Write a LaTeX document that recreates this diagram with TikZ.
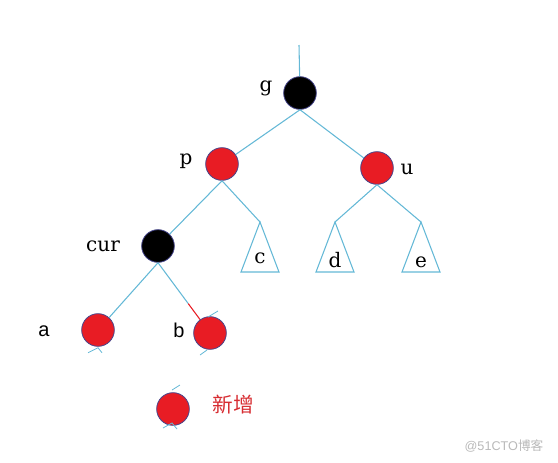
\documentclass[tikz,border=0pt]{standalone}
\usepackage{fontspec}
\setmainfont{DejaVu Serif}
\newfontfamily\sansf{Liberation Sans}
\newfontfamily\cjk{Noto Sans CJK SC}
\definecolor{edgeblue}{RGB}{100,184,214}
\definecolor{nodered}{RGB}{232,28,36}
\definecolor{rimblue}{RGB}{70,70,140}
\definecolor{labred}{RGB}{215,45,50}
\definecolor{wmgrey}{RGB}{185,185,185}
\tikzset{
  edge/.style={draw=edgeblue, line width=0.8pt},
  rbnode/.style={circle, draw=rimblue, line width=0.6pt, minimum size=24.5pt, inner sep=0pt},
  rednode/.style={rbnode, fill=nodered},
  blacknode/.style={rbnode, fill=black},
  lab/.style={font=\fontsize{15}{17}\selectfont, anchor=base, inner sep=0pt},
  slab/.style={font=\sansf\fontsize{15}{17}\selectfont, anchor=base, inner sep=0pt},
}
\begin{document}
\begin{tikzpicture}[x=0.75pt, y=-0.75pt]
\useasboundingbox (0,0) rectangle (558,462);
% nodes
\node[blacknode] (g) at (300,93) {};
\node[rednode] (p) at (222,164) {};
\node[rednode] (u) at (377,168) {};
\node[blacknode] (cur) at (158,246) {};
\node[rednode] (a) at (98,330) {};
\node[rednode] (b) at (210,333) {};
\node[rednode] (n) at (173,409) {};
% triangles
\coordinate (ct) at (260,222);
\coordinate (dt) at (335,222);
\coordinate (et) at (421,222);
\draw[edge] (ct) -- ++(-19,50) -- ++(38,0) -- cycle;
\draw[edge] (dt) -- ++(-19,50) -- ++(38,0) -- cycle;
\draw[edge] (et) -- ++(-19,50) -- ++(38,0) -- cycle;
% top line
\coordinate (top) at (299,45);
\draw[edge] (top) -- (g);
% edges
\draw[edge] (g.south) -- (p);
\draw[edge] (g.south) -- (u);
\draw[edge] (p.south) -- (cur);
\draw[edge] (p.south) -- (ct);
\draw[edge] (u.south) -- (dt);
\draw[edge] (u.south) -- (et);
\draw[edge] (cur.south) -- (a);
\path (cur.south) -- (b) coordinate[pos=0.72] (bm);
\draw[edge] (cur.south) -- (bm);
\draw[draw=nodered, line width=0.8pt] (bm) -- (b);
% small nil strokes
\draw[edge, line width=0.6pt] ([shift={(-10,6)}]a.south) -- ([shift={(0,1)}]a.south) -- ([shift={(4,6)}]a.south);
\draw[edge, line width=0.6pt] ([shift={(-10,22)}]b.center) -- ([shift={(-3,17)}]b.center);
\draw[edge, line width=0.6pt] ([shift={(-2,-16)}]b.center) -- ([shift={(8,-22)}]b.center);
\draw[edge, line width=0.6pt] ([shift={(-10,19)}]n.center) -- ([shift={(-1,14)}]n.center) -- ([shift={(4,20)}]n.center);
\draw[edge, line width=0.6pt] ([shift={(-1,-19)}]n.center) -- ([shift={(7,-24)}]n.center);
% labels
\node[lab] (lg) at (266,91) {g};
\node[lab] (lp) at (186,164) {p};
\node[lab] (lu) at (407,174) {u};
\node[lab] (lcur) at (103,251) {cur};
\node[lab] (lc) at (260,263) {c};
\node[lab] (ld) at (335,267) {d};
\node[lab] (le) at (421,267) {e};
\node[slab] (la) at (44,336) {a};
\node[slab] (lb) at (179,337) {b};
\node[font=\cjk\fontsize{15.5}{18}\selectfont, text=labred, inner sep=0pt] (new) at (233,405) {新增};
\node[font=\sansf\fontsize{9.5}{11}\selectfont, text=wmgrey, inner sep=0pt] (wm) at (504,446) {@51CTO\cjk 博客};
\end{tikzpicture}
\end{document}
